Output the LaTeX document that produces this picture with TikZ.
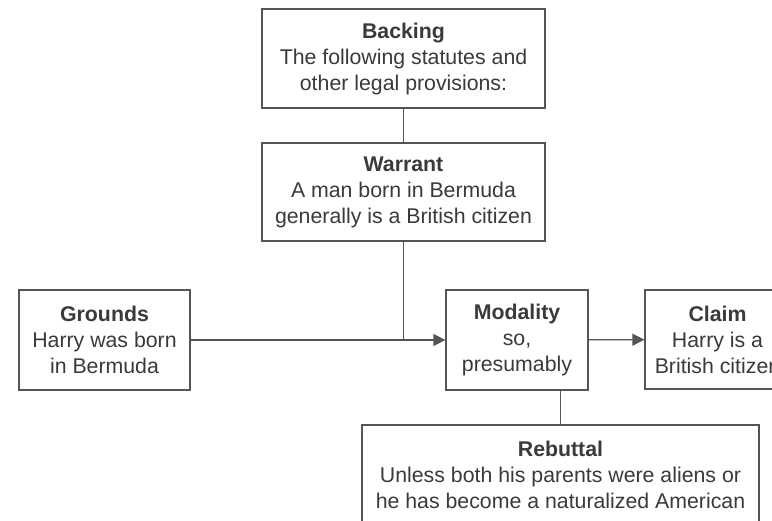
\documentclass[tikz,border=0pt]{standalone}
\usepackage{fontspec}
\setmainfont{Liberation Sans}
\usetikzlibrary{arrows.meta}
\definecolor{inkgray}{HTML}{3A3A3A}
\definecolor{linegray}{HTML}{555555}
\tikzset{
  box/.style={draw=linegray, line width=1.2pt, rectangle, inner sep=0pt,
    align=center, text=inkgray, font=\fontsize{21.3}{26}\selectfont},
  conn/.style={draw=linegray, line width=1.2pt},
  arr/.style={conn, -{Triangle[length=12pt,width=12pt]}}
}
\begin{document}
\begin{tikzpicture}[x=1pt,y=-1pt]
\useasboundingbox (0,0) rectangle (772,521);
\fill[white] (0,0) rectangle (772,521);
\clip (0,0) rectangle (772,521);
\node[box, minimum width=283pt, minimum height=99pt] (backing) at (403.5,58.5)
  {\textbf{Backing}\\The following statutes and\\other legal provisions:};
\node[box, minimum width=283pt, minimum height=98pt] (warrant) at (403.5,192)
  {\textbf{Warrant}\\A man born in Bermuda\\generally is a British citizen};
\node[box, minimum width=171pt, minimum height=100pt] (grounds) at (104.5,340)
  {\textbf{Grounds}\\Harry was born\\in Bermuda};
\node[box, minimum width=142pt, minimum height=100pt] (modality) at (517,340)
  {\textbf{Modality}\\so,\\presumably};
\node[box, minimum width=145pt, minimum height=99pt] (claim) at (717.5,339.5)
  {\textbf{Claim}\\Harry is a\\British citizen};
\node[box, minimum width=397pt, minimum height=100pt] (rebuttal) at (560.5,475)
  {\textbf{Rebuttal}\\Unless both his parents were aliens or\\he has become a naturalized American};
\coordinate (j) at (warrant.south |- grounds.east);
\draw[conn] (backing) -- (warrant);
\draw[conn] (warrant) -- (j);
\draw[arr] (grounds) -- (modality);
\draw[arr] (modality) -- (claim);
\draw[conn] (rebuttal.north) -- (rebuttal.north |- modality.south);
\end{tikzpicture}
\end{document}
